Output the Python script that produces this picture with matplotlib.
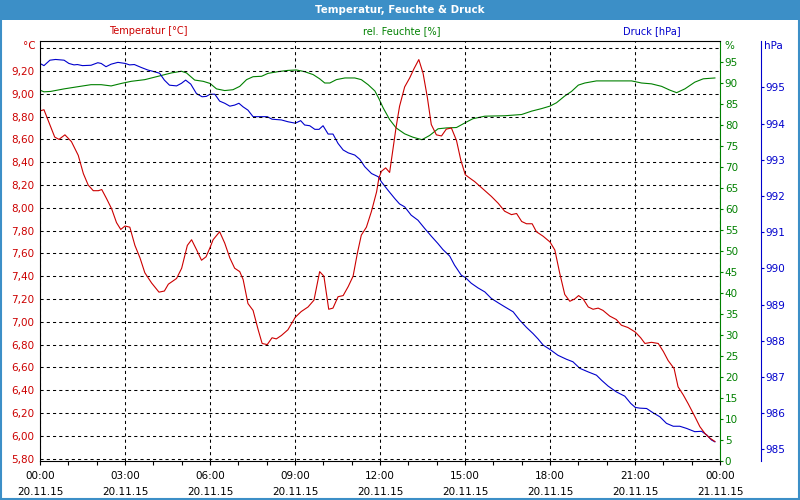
import matplotlib.pyplot as plt
from matplotlib.patches import Rectangle
from matplotlib.ticker import FuncFormatter, MultipleLocator

# Use Agg backend for headless environments
plt.switch_backend('Agg')

RED = '#cc0000'
GREEN = '#008000'
BLUE = '#0000cc'
BAR = '#3c8fc7'

# hours since 20.11.15 00:00
temp_hours = [0, 0.14, 0.33, 0.52, 0.67, 0.88, 1.11, 1.35, 1.53, 1.70, 1.88, 2.06, 2.18, 2.35,
              2.53, 2.70, 2.85, 3.00, 3.17, 3.35, 3.53, 3.70, 3.94, 4.20, 4.39, 4.53, 4.82, 5.00,
              5.20, 5.35, 5.53, 5.70, 5.86, 6.00, 6.11, 6.34, 6.52, 6.70, 6.87, 7.05, 7.17, 7.34,
              7.52, 7.70, 7.84, 8.02, 8.19, 8.34, 8.52, 8.75, 9.01, 9.22, 9.46, 9.67, 9.87, 10.02,
              10.19, 10.34, 10.52, 10.70, 10.88, 11.05, 11.20, 11.34, 11.52, 11.70, 11.88, 11.96,
              12.05, 12.20, 12.34, 12.42, 12.57, 12.69, 12.87, 13.05, 13.20, 13.37, 13.52, 13.67,
              13.81, 13.99, 14.17, 14.34, 14.52, 14.70, 14.85, 15.01, 15.17, 15.34, 15.52, 15.70,
              15.93, 16.17, 16.40, 16.64, 16.82, 17.00, 17.17, 17.37, 17.52, 17.76, 18.00, 18.17,
              18.34, 18.52, 18.70, 18.87, 19.01, 19.17, 19.35, 19.52, 19.70, 19.87, 20.11, 20.34,
              20.52, 20.75, 21.01, 21.20, 21.35, 21.58, 21.82, 22.00, 22.17, 22.38, 22.52, 22.70,
              22.88, 23.11, 23.29, 23.47, 23.64, 23.82]
temp_values = [8.85, 8.86, 8.74, 8.62, 8.60, 8.64, 8.58, 8.46, 8.30, 8.20, 8.15, 8.15, 8.16, 8.08,
               7.99, 7.87, 7.81, 7.84, 7.83, 7.67, 7.56, 7.43, 7.34, 7.26, 7.27, 7.33, 7.38, 7.47,
               7.67, 7.72, 7.63, 7.54, 7.57, 7.65, 7.72, 7.79, 7.69, 7.56, 7.47, 7.44, 7.37, 7.16,
               7.10, 6.93, 6.81, 6.80, 6.86, 6.85, 6.88, 6.93, 7.04, 7.09, 7.13, 7.19, 7.44, 7.40,
               7.11, 7.12, 7.22, 7.23, 7.31, 7.40, 7.60, 7.76, 7.83, 7.97, 8.14, 8.26,
               8.32, 8.35, 8.31, 8.45, 8.71, 8.89, 9.06, 9.14, 9.22, 9.30, 9.18, 8.97,
               8.73, 8.64, 8.63, 8.69, 8.70, 8.59, 8.42, 8.29, 8.26, 8.23, 8.19, 8.15,
               8.10, 8.04, 7.97, 7.94, 7.95, 7.88, 7.86, 7.86, 7.79, 7.75, 7.70, 7.63,
               7.43, 7.24, 7.18, 7.20, 7.23, 7.20, 7.13, 7.11, 7.12, 7.10, 7.05, 7.02,
               6.97, 6.95, 6.91, 6.86, 6.81, 6.82, 6.81, 6.74, 6.66, 6.59, 6.43, 6.36,
               6.28, 6.17, 6.08, 6.02, 5.98, 5.95]

hum_hours = [0, 0.14, 0.38, 0.85, 1.32, 1.80, 2.16, 2.51, 2.87, 3.22, 3.70, 4.17, 4.64, 4.99,
             5.17, 5.46, 5.76, 6.00, 6.23, 6.52, 6.81, 7.05, 7.29, 7.52, 7.82, 8.05, 8.40, 8.75,
             9.05, 9.34, 9.64, 9.87, 10.05, 10.23, 10.46, 10.76, 11.11, 11.34, 11.58, 11.82,
             11.96, 12.11, 12.34, 12.57, 12.87, 13.16, 13.48, 13.75, 14.05, 14.34, 14.70, 15.05,
             15.28, 15.70, 16.40, 17.00, 17.35, 17.70, 18.00, 18.23, 18.52, 18.76, 19.00, 19.23,
             19.64, 20.29, 20.88, 21.23, 21.58, 21.94, 22.23, 22.47, 22.76, 23.11, 23.41, 23.82]
hum_values = [88.3, 87.9, 88.0, 88.6, 89.1, 89.6, 89.6, 89.3, 89.9, 90.4, 90.8, 91.6, 92.4, 92.8,
              92.4, 90.7, 90.4, 89.9, 88.6, 88.2, 88.4, 89.2, 90.8, 91.5, 91.6, 92.3, 92.7, 93.0,
              93.1, 92.7, 92.0, 91.0, 90.0, 90.0, 90.8, 91.2, 91.2, 90.8, 89.6, 88.1,
              86.3, 84.1, 81.3, 79.3, 77.9, 77.1, 76.5, 77.5, 79.1, 79.3, 79.4, 80.7,
              81.5, 82.1, 82.2, 82.5, 83.3, 83.9, 84.5, 85.3, 86.9, 88.0, 89.5, 90.0,
              90.5, 90.5, 90.5, 90.0, 89.8, 89.2, 88.3, 87.7, 88.6, 90.2, 91.0, 91.2]

press_hours = [0, 0.14, 0.35, 0.55, 0.85, 1.02, 1.20, 1.32, 1.50, 1.80, 2.04, 2.16, 2.33, 2.51,
               2.75, 3.01, 3.16, 3.33, 3.57, 3.80, 4.04, 4.22, 4.39, 4.57, 4.82, 4.99, 5.14, 5.32,
               5.52, 5.72, 5.87, 6.00, 6.17, 6.34, 6.52, 6.70, 6.87, 7.02, 7.17, 7.34, 7.52, 7.70,
               8.02, 8.19, 8.52, 8.75, 9.01, 9.20, 9.34, 9.52, 9.70, 9.85, 9.99, 10.17, 10.34,
               10.52, 10.70, 10.88, 11.11, 11.29, 11.46, 11.70, 11.94, 12.05, 12.28, 12.52, 12.69,
               12.87, 13.10, 13.34, 13.57, 13.81, 14.04, 14.22, 14.46, 14.63, 14.87, 15.01, 15.22,
               15.46, 15.70, 15.93, 16.17, 16.40, 16.70, 16.93, 17.17, 17.40, 17.58, 17.76, 18.00,
               18.28, 18.58, 18.81, 19.05, 19.35, 19.64, 19.82, 20.05, 20.34, 20.64, 20.85, 21.01,
               21.17, 21.41, 21.64, 21.88, 22.11, 22.35, 22.58, 22.82, 23.11, 23.35, 23.53, 23.70,
               23.82]
press_values = [995.66, 995.60, 995.75, 995.77, 995.75, 995.66, 995.62, 995.63, 995.60, 995.61,
                995.68, 995.66, 995.57, 995.64, 995.69, 995.66, 995.62, 995.63, 995.55, 995.48,
                995.43, 995.39, 995.20, 995.06, 995.04, 995.11, 995.20, 995.09, 994.83, 994.74,
                994.75, 994.81, 994.81, 994.62, 994.56, 994.48, 994.51, 994.56, 994.46, 994.37,
                994.19, 994.19, 994.19, 994.12, 994.10, 994.05, 994.01, 994.08, 993.96, 993.94,
                993.84, 993.84, 993.94, 993.71, 993.71, 993.45, 993.27, 993.19, 993.13, 993.01,
                992.81, 992.62, 992.53, 992.39, 992.16, 991.93, 991.78, 991.70, 991.47, 991.33,
                991.11, 990.89, 990.69, 990.52, 990.34, 990.09, 989.81, 989.75, 989.59, 989.46,
                989.35, 989.17, 989.05, 988.94, 988.80, 988.57, 988.37, 988.20, 988.05, 987.88,
                987.76, 987.60, 987.49, 987.42, 987.24, 987.14, 987.05, 986.91, 986.75, 986.59,
                986.47, 986.27, 986.16, 986.14, 986.13, 986.01, 985.90, 985.72, 985.64, 985.64,
                985.58, 985.49, 985.50, 985.40, 985.26, 985.21]

temp_ticks = [5.8 + 0.2 * i for i in range(19)]
hum_ticks = list(range(0, 100, 5))
press_ticks = list(range(985, 996))
hour_ticks = list(range(0, 25, 3))
hour_labels = ['%02d:00\n20.11.15' % h for h in hour_ticks[:-1]] + ['00:00\n21.11.15']

FONT = 7.5
CAP = 7.0


def temp_fmt(v, pos):
    if v > 9.3:
        return ''
    return ('%.2f' % v).replace('.', ',')


fig = plt.figure(figsize=(8, 5), dpi=100)
fig.patch.set_facecolor('white')

# frame and title bar
fig.patches.append(Rectangle((0, 1 - 20 / 500), 1, 20 / 500, transform=fig.transFigure,
                             facecolor=BAR, edgecolor='none', zorder=0))
fig.patches.append(Rectangle((0.001, 0.002), 0.998, 0.996, transform=fig.transFigure,
                             facecolor='none', edgecolor=BAR, linewidth=1.5, zorder=0))
fig.text(0.5, 1 - 10 / 500, 'Temperatur, Feuchte & Druck', ha='center', va='center',
         color='white', fontweight='bold', fontsize=7.4)

ax = fig.add_axes([40 / 800, 39 / 500, 680 / 800, 420 / 500])
ax2 = ax.twinx()
ax3 = ax.twinx()

# humidity
ax2.plot(hum_hours, hum_values, color=GREEN, linewidth=0.8)
ax2.set_ylim(0, 100)
ax2.set_yticks(hum_ticks)
ax2.tick_params(axis='y', colors=GREEN, labelsize=FONT, length=2.5, width=0.8, pad=1)
for s in ['top', 'bottom', 'left']:
    ax2.spines[s].set_visible(False)
ax2.spines['right'].set_color(GREEN)

# pressure
ax3.plot(press_hours, press_values, color=BLUE, linewidth=0.8)
ax3.set_ylim(984.68, 996.28)
ax3.set_yticks(press_ticks)
ax3.tick_params(axis='y', colors=BLUE, labelsize=FONT, length=2.5, width=0.8, pad=1)
for s in ['top', 'bottom', 'left']:
    ax3.spines[s].set_visible(False)
ax3.spines['right'].set_position(('outward', 41 * 0.72))
ax3.spines['right'].set_color(BLUE)

# temperature on top
ax.set_zorder(ax3.get_zorder() + 1)
ax.patch.set_visible(False)
ax.plot(temp_hours, temp_values, color=RED, linewidth=0.8)
ax.set_xlim(0, 24)
ax.set_ylim(5.779, 9.463)
ax.set_yticks(temp_ticks)
ax.yaxis.set_major_formatter(FuncFormatter(temp_fmt))
ax.tick_params(axis='y', labelcolor=RED, labelsize=FONT, length=0, pad=4)
ax.set_xticks(hour_ticks)
ax.set_xticklabels(hour_labels, fontsize=FONT, linespacing=1.75)
ax.xaxis.set_minor_locator(MultipleLocator(1))
ax.tick_params(axis='x', which='both', direction='out', length=3, width=0.8, pad=4)
ax.spines['right'].set_visible(False)
ax.grid(True, which='major', color='black', linestyle=(0, (3, 3)), linewidth=0.75)

# axis captions
fig.text(148 / 800, 1 - 31 / 500, 'Temperatur [°C]', ha='center', va='center', color=RED, fontsize=CAP)
fig.text(402 / 800, 1 - 31 / 500, 'rel. Feuchte [%]', ha='center', va='center', color=GREEN, fontsize=CAP)
fig.text(652 / 800, 1 - 31 / 500, 'Druck [hPa]', ha='center', va='center', color=BLUE, fontsize=CAP)
fig.text(36 / 800, 1 - 46 / 500, '°C', ha='right', va='center', color=RED, fontsize=FONT)
fig.text(724 / 800, 1 - 46 / 500, '%', ha='left', va='center', color=GREEN, fontsize=FONT)
fig.text(764 / 800, 1 - 46 / 500, 'hPa', ha='left', va='center', color=BLUE, fontsize=FONT)

fig.savefig('out.png', dpi=100)
plt.close(fig)
